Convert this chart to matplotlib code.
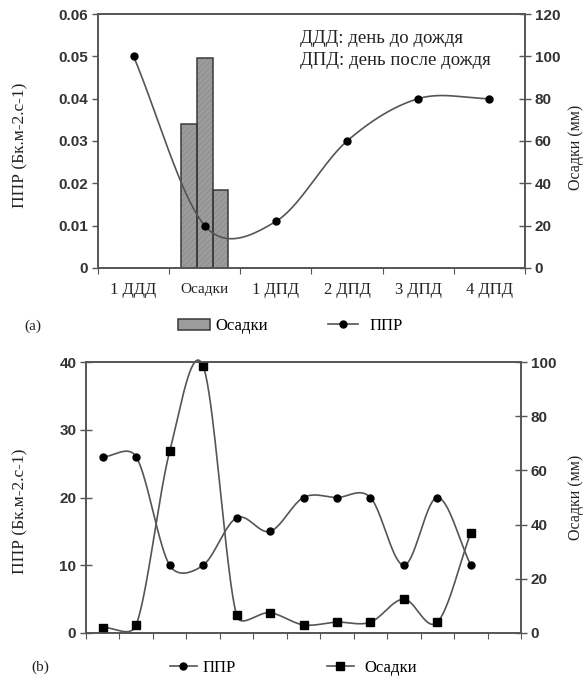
import numpy as np
import matplotlib
matplotlib.use("Agg")
import matplotlib.pyplot as plt
from matplotlib.lines import Line2D
from matplotlib.patches import Patch

# ---------------- data ----------------
cats_a = ["1 ДДД", "Осадки", "1 ДПД", "2 ДПД", "3 ДПД", "4 ДПД"]
ppr_a = [0.05, 0.01, 0.011, 0.03, 0.04, 0.04]
rain_a = [68, 99, 37]          # three bars in the "Осадки" category (mm)

ppr_b = [26, 26, 10, 10, 17, 15, 20, 20, 20, 10, 20, 10]
rain_b = [2, 3, 67, 98.5, 6.5, 7.5, 3, 4, 4, 12.5, 4, 37]
n_cat_b = 13

LINE = "#555555"
SPINE = "#555555"
TXT = "#222222"
SERIF = ["Liberation Serif", "DejaVu Serif"]
SANS = ["Liberation Sans", "DejaVu Sans"]
plt.rcParams["hatch.linewidth"] = 0.5


def smooth_line(ax, xs, ys, clamp=0.45, n=40):
    """Smoothed (Bezier / Catmull-Rom style) path through the points, computed in display space."""
    P = ax.transData.transform(np.column_stack([xs, ys]).astype(float))
    m = len(P)
    T = np.zeros_like(P)
    T[1:-1] = (P[2:] - P[:-2]) / 6.0
    T[0] = (P[1] - P[0]) / 3.0
    T[-1] = (P[-1] - P[-2]) / 3.0
    t = np.linspace(0, 1, n)[:, None]
    out = []
    for i in range(m - 1):
        d = np.hypot(*(P[i + 1] - P[i]))
        c1, c2 = T[i].copy(), T[i + 1].copy()
        for c in (c1, c2):
            L = np.hypot(*c)
            if L > clamp * d and L > 0:
                c *= clamp * d / L
        B0, B1, B2, B3 = P[i], P[i] + c1, P[i + 1] - c2, P[i + 1]
        seg = ((1 - t) ** 3) * B0 + 3 * ((1 - t) ** 2) * t * B1 + 3 * (1 - t) * t ** 2 * B2 + t ** 3 * B3
        out.append(seg if i == 0 else seg[1:])
    S = ax.transData.inverted().transform(np.vstack(out))
    return S[:, 0], S[:, 1]


def style_axes(ax, ax2):
    for a in (ax, ax2):
        for s in a.spines.values():
            s.set_color(SPINE)
            s.set_linewidth(1.2)
    ax.tick_params(axis="y", direction="out", length=4, width=1, color=SPINE,
                   labelsize=11, labelcolor="#333333", pad=3)
    ax2.tick_params(axis="y", direction="inout", length=8, width=1, color=SPINE,
                    labelsize=11, labelcolor="#333333", pad=3)
    for lab in ax.get_yticklabels() + ax2.get_yticklabels():
        lab.set_fontweight("bold")
        lab.set_family(SANS)


fig = plt.figure(figsize=(5.85, 6.79), dpi=100)
W, H = 585, 679


def frac_box(l, t, r, b):
    return [l / W, 1 - b / H, (r - l) / W, (b - t) / H]


def fx(x):
    return x / W


def fy(y):
    return 1 - y / H


# ---------------- panel (a) ----------------
ax = fig.add_axes(frac_box(98, 14, 525, 268))
ax2 = ax.twinx()
ax.set_zorder(ax2.get_zorder() + 1)
ax.patch.set_visible(False)

ax.set_xlim(0, 6)
ax.set_ylim(0, 0.06)
ax2.set_ylim(0, 120)

xa = np.arange(len(cats_a)) + 0.5
bw = 0.22
bx = 1.5 + np.array([-bw, 0, bw])
ax2.bar(bx, rain_a, width=bw, color="#9c9c9c", edgecolor="#8a8a8a", linewidth=0,
        hatch="//////")
ax2.bar(bx, rain_a, width=bw, fill=False, edgecolor="#3a3a3a", linewidth=1.1)
sx, sy = smooth_line(ax, xa, ppr_a)
ax.plot(sx, sy, color=LINE, lw=1.2)
ax.plot(xa, ppr_a, "o", color="black", ms=5)

ax.set_yticks(np.arange(0, 0.061, 0.01))
ax.set_yticklabels(["0"] + [f"{v:.2f}" for v in np.arange(0.01, 0.061, 0.01)])
ax2.set_yticks(np.arange(0, 121, 20))
ax.set_xticks(np.arange(0, 7))
ax.set_xticklabels([])
ax.set_xticks(xa, minor=True)
ax.set_xticklabels(cats_a, minor=True, family=SERIF, fontsize=12, color=TXT,
                   va="center")
ax.tick_params(axis="x", which="major", direction="out", length=4, color=SPINE)
style_axes(ax, ax2)
ax.tick_params(axis="x", which="minor", length=0, pad=15.5)
for i, lab in enumerate(ax.get_xticklabels(minor=True)):
    if i == 1:
        lab.set_fontsize(11)

ax.text(0.473, 0.905, "ДДД: день до дождя", transform=ax.transAxes,
        family=SERIF, fontsize=13.5, color=TXT, va="center")
ax.text(0.473, 0.815, "ДПД: день после дождя", transform=ax.transAxes,
        family=SERIF, fontsize=13.5, color=TXT, va="center")

fig.text(fx(20), fy(145), "ППР (Бк.м-2.с-1)", rotation=90, family=SERIF,
         fontsize=12.5, color=TXT, ha="center", va="center")
fig.text(fx(576), fy(147), "Осадки (мм)", rotation=90, family=SERIF,
         fontsize=11.5, color=TXT, ha="center", va="center")
fig.text(fx(33), fy(326), "(a)", family=SERIF, fontsize=11, color=TXT,
         ha="center", va="center")

leg_kw = dict(frameon=False, borderpad=0, borderaxespad=0, loc="center left",
              prop={"family": SERIF, "size": 12})
h1 = Patch(facecolor="#9c9c9c", edgecolor="#3a3a3a", linewidth=1.1)
fig.legend([h1], ["Осадки"], bbox_to_anchor=(fx(178), fy(326)),
           handlelength=1.95, handleheight=0.65, handletextpad=0.3, **leg_kw)
h2 = Line2D([], [], color=LINE, lw=1.2, marker="o", mfc="black", mec="black", ms=5)
fig.legend([h2], ["ППР"], bbox_to_anchor=(fx(328), fy(326)),
           handlelength=1.8, handletextpad=0.7, **leg_kw)

# ---------------- panel (b) ----------------
bx_ = fig.add_axes(frac_box(86, 362, 521, 633))
bx2 = bx_.twinx()
bx_.set_xlim(0, n_cat_b)
bx_.set_ylim(0, 40)
bx2.set_ylim(0, 100)

xb = np.arange(len(ppr_b)) + 0.5
cx, cy = smooth_line(bx_, xb, ppr_b)
bx_.plot(cx, cy, color=LINE, lw=1.2, clip_on=False)
bx_.plot(xb, ppr_b, "o", color="black", ms=5)
rx, ry = smooth_line(bx2, xb, rain_b)
bx2.plot(rx, ry, color=LINE, lw=1.2, clip_on=False)
bx2.plot(xb, rain_b, "s", color="black", ms=5.5)

bx_.set_yticks(np.arange(0, 41, 10))
bx2.set_yticks(np.arange(0, 101, 20))
bx_.set_xticks(np.arange(0, n_cat_b + 1))
bx_.set_xticklabels([])
style_axes(bx_, bx2)
bx_.tick_params(axis="y", direction="inout", length=8)
bx_.tick_params(axis="x", direction="out", length=4, color=SPINE)

fig.text(fx(20), fy(511), "ППР (Бк.м-2.с-1)", rotation=90, family=SERIF,
         fontsize=12.5, color=TXT, ha="center", va="center")
fig.text(fx(576), fy(497), "Осадки (мм)", rotation=90, family=SERIF,
         fontsize=11.5, color=TXT, ha="center", va="center")
fig.text(fx(40), fy(667), "(b)", family=SERIF, fontsize=11, color=TXT,
         ha="center", va="center")

g1 = Line2D([], [], color=LINE, lw=1.2, marker="o", mfc="black", mec="black", ms=5)
g2 = Line2D([], [], color=LINE, lw=1.2, marker="s", mfc="black", mec="black", ms=5.5)
fig.legend([g1], ["ППР"], bbox_to_anchor=(fx(170), fy(668)),
           handlelength=1.6, handletextpad=0.35, **leg_kw)
fig.legend([g2], ["Осадки"], bbox_to_anchor=(fx(327), fy(668)),
           handlelength=1.6, handletextpad=0.65, **leg_kw)

fig.savefig("out.png", dpi=100)
